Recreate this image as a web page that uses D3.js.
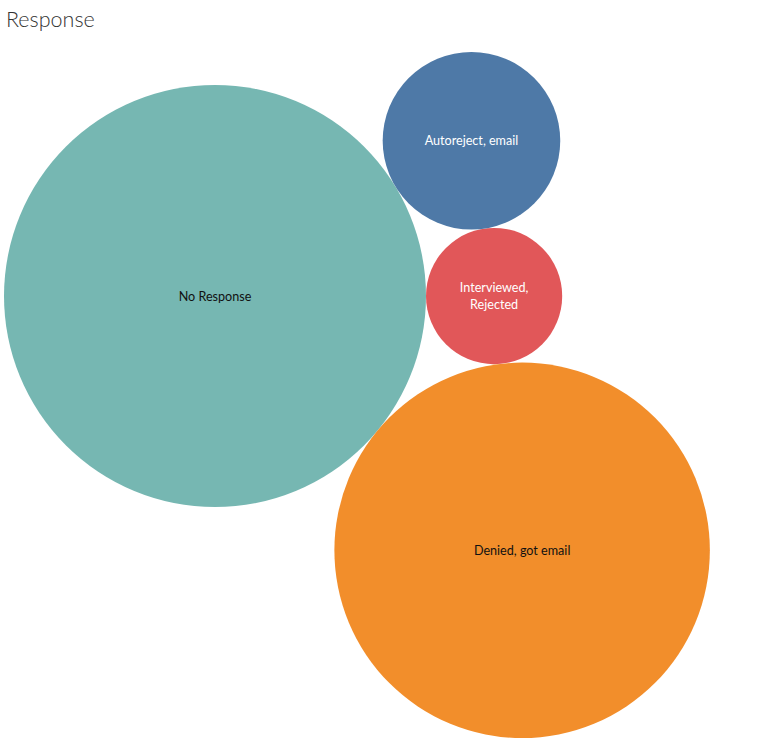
<!DOCTYPE html>
<html>
<head>
<meta charset="utf-8">
<script src="https://cdn.jsdelivr.net/npm/d3@7"></script>
<style>
  html, body { margin: 0; padding: 0; background: #fff; }
  svg { display: block; }
</style>
</head>
<body>
<svg id="chart" width="765" height="747"></svg>
<script>
// ---- data ----
const categories = ["No Response", "Interviewed, Rejected", "Autoreject, email", "Denied, got email"];
const counts = [96, 10, 17, 76];
const colors = ["#76B7B2", "#E15759", "#4E79A7", "#F28E2B"];
const labelColors = ["#111111", "#ffffff", "#ffffff", "#111111"];
const labelLines = [["No Response"], ["Interviewed,", "Rejected"], ["Autoreject, email"], ["Denied, got email"]];

const svg = d3.select("#chart");

svg.append("text")
  .attr("x", 6).attr("y", 27)
  .attr("font-family", "Lato, 'Open Sans', sans-serif")
  .attr("font-size", 21.5)
  .attr("font-weight", 300)
  .attr("fill", "#333")
  .text("Response");

const rScale = d3.scaleSqrt().domain([0, d3.max(counts)]).range([0, 211]);
const nodes = categories.map((c, i) => ({ name: c, value: counts[i], r: rScale(counts[i]), i }));

// tangent layout: largest at origin, smallest to its right, others tangent to both
const a = nodes[0], b = nodes[1];
a.x = 0; a.y = 0;
b.x = a.r + b.r; b.y = 0;
function tangent(n, sign) {
  const d1 = a.r + n.r, d2 = b.r + n.r, base = b.x - a.x;
  const along = (d1 * d1 - d2 * d2 + base * base) / (2 * base);
  const h = Math.sqrt(Math.max(0, d1 * d1 - along * along));
  n.x = a.x + along; n.y = a.y + sign * h;
}
tangent(nodes[2], -1);
tangent(nodes[3], 1);

const minX = d3.min(nodes, d => d.x - d.r);
const minY = d3.min(nodes, d => d.y - d.r);
const offX = 4 - minX, offY = 52 - minY;

const g = svg.append("g").attr("transform", `translate(${offX},${offY})`);
const node = g.selectAll("g.bubble").data(nodes).join("g")
  .attr("class", "bubble")
  .attr("transform", d => `translate(${d.x},${d.y})`);

node.append("circle")
  .attr("r", d => d.r)
  .attr("fill", d => colors[d.i]);

node.each(function(d) {
  const lines = labelLines[d.i];
  const lh = 17;
  const t = d3.select(this).append("text")
    .attr("text-anchor", "middle")
    .attr("font-family", "Lato, 'Open Sans', sans-serif")
    .attr("font-size", 12.6)
    .attr("fill", labelColors[d.i]);
  lines.forEach((ln, k) => {
    t.append("tspan")
      .attr("x", 0)
      .attr("y", (k - (lines.length - 1) / 2) * lh + 4.5)
      .text(ln);
  });
});
</script>
</body>
</html>
